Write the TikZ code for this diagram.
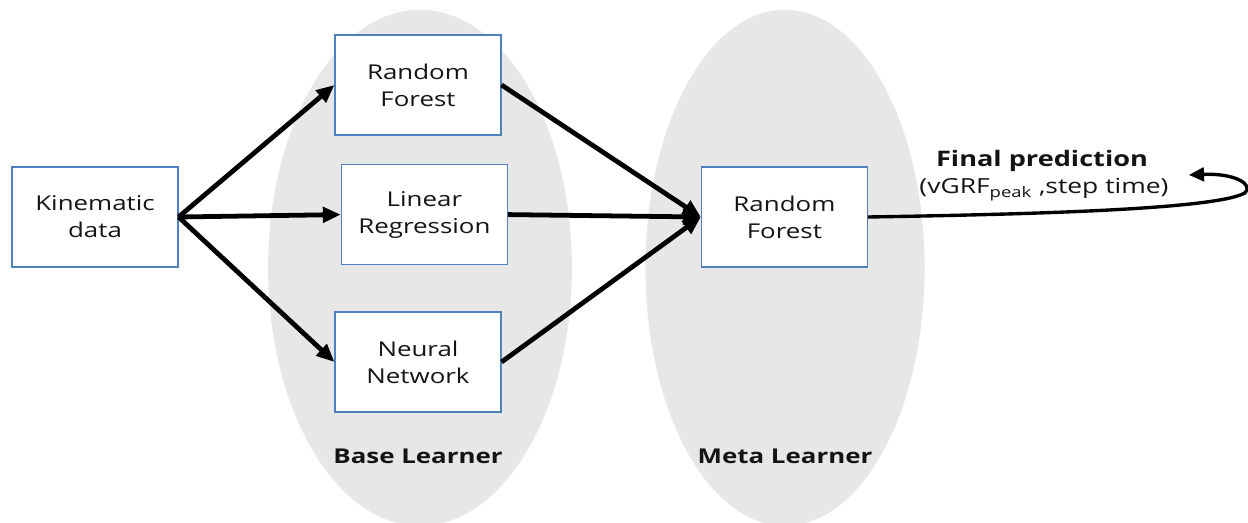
\documentclass[tikz,border=0pt]{standalone}
\usepackage{fontspec}
\setmainfont{Open Sans}[FakeStretch=1.27]
\usepackage{xcolor}
\usepackage{tikz}
\definecolor{boxblue}{RGB}{79, 129, 189}
\definecolor{learnergray}{RGB}{231, 231, 231}
\definecolor{textdark}{RGB}{20, 20, 20}
\usetikzlibrary{arrows.meta, positioning, shapes.geometric}

\begin{document}
\begin{tikzpicture}[
    learner/.style={ellipse, fill=learnergray, draw=none, minimum width=7.6cm, minimum height=12.9cm, inner sep=0pt},
    model/.style={rectangle, draw=boxblue, fill=white, line width=0.8pt, minimum width=4.15cm, minimum height=2.5cm, align=center, text=textdark, font=\fontsize{14.5}{19.2}\selectfont},
    grouptitle/.style={text=textdark, font=\fontsize{14.5}{19.2}\selectfont\bfseries},
    arrow/.style={-{Triangle[length=0.45cm, width=0.38cm]}, line width=3.4pt},
    outarrow/.style={-{Triangle[length=0.38cm, width=0.34cm]}, line width=2.4pt}
]
    \useasboundingbox (0, 0) rectangle (31.2, 13.075);

    \node[learner] (base) at (10.5, 6.38) {};
    \node[learner, minimum width=6.98cm] (meta) at (19.625, 6.38) {};

    \node[model] (kin) at (2.375, 7.65) {Kinematic\\data};
    \node[model] (rf) at (10.45, 10.95) {Random\\Forest};
    \node[model] (lr) at (10.61, 7.71) {Linear\\Regression};
    \node[model] (nn) at (10.45, 4.025) {Neural\\Network};
    \node[model] (mrf) at (19.61, 7.65) {Random\\Forest};

    \draw[arrow] (kin.east) -- (rf.west);
    \draw[arrow] (kin.east) -- (lr.west);
    \draw[arrow] (kin.east) -- (nn.west);
    \draw[arrow] (rf.east) -- (mrf.west);
    \draw[arrow] (lr.east) -- (mrf.west);
    \draw[arrow] (nn.east) -- (mrf.west);

    \node[grouptitle] (basetitle) at (10.45, 1.675) {Base Learner};
    \node[grouptitle] (metatitle) at (19.625, 1.675) {Meta Learner};

    \node[grouptitle, font=\fontsize{15.2}{19.2}\selectfont\bfseries] (final) at (26.05, 9.05) {Final prediction};
    \node[text=textdark, font=\fontsize{14.8}{19.2}\selectfont] (finalvals) at (26.1, 8.325) {(vGRF\textsubscript{peak} ,step time)};

    \coordinate (outtip) at (29.72, 8.7);
    \draw[outarrow] (mrf.east) .. controls (26, 7.72) and (30.4, 7.85) .. (31.12, 8.25)
        .. controls (31.35, 8.45) and (30.9, 8.75) .. (outtip);
\end{tikzpicture}
\end{document}
